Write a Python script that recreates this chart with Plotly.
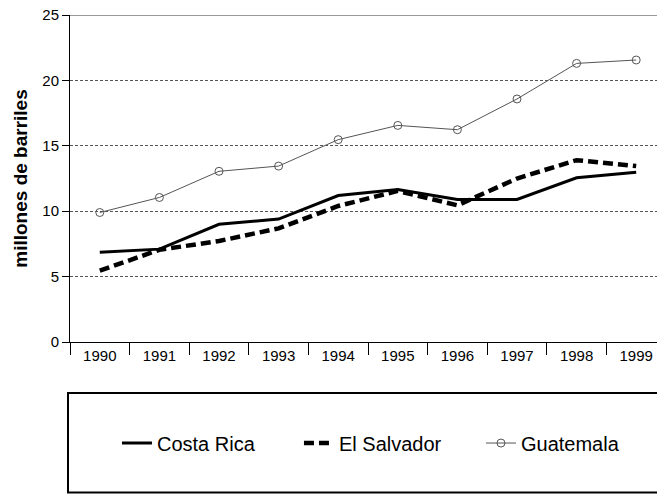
import plotly.graph_objects as go

years = ["1990", "1991", "1992", "1993", "1994", "1995", "1996", "1997", "1998", "1999"]
costa_rica = [6.86, 7.1, 9.0, 9.4, 11.2, 11.65, 10.9, 10.9, 12.55, 12.97]
el_salvador = [5.45, 7.05, 7.72, 8.69, 10.4, 11.55, 10.45, 12.5, 13.9, 13.45]
guatemala = [9.9, 11.05, 13.05, 13.45, 15.47, 16.56, 16.23, 18.58, 21.3, 21.56]

FONT = "Liberation Sans, Arial, sans-serif"

fig = go.Figure()
fig.add_trace(go.Scatter(x=years, y=costa_rica, name="Costa Rica", mode="lines",
                         line=dict(color="black", width=3)))
fig.add_trace(go.Scatter(x=years, y=el_salvador, name="El Salvador", mode="lines",
                         line=dict(color="black", width=4.5, dash="10px,5px")))
fig.add_trace(go.Scatter(x=years, y=guatemala, name="Guatemala", mode="lines+markers",
                         line=dict(color="#555555", width=1),
                         marker=dict(symbol="circle-open", size=8, color="#555555",
                                     line=dict(width=1, color="#555555"))))

fig.update_layout(
    width=657, height=495,
    margin=dict(l=70, r=0, t=15, b=153, autoexpand=False),
    paper_bgcolor="white", plot_bgcolor="white",
    font=dict(family=FONT, color="black", size=15),
    showlegend=True,
    legend=dict(orientation="h", x=0.080, y=-0.309, xanchor="left", yanchor="middle",
                font=dict(size=20, family=FONT), bgcolor="rgba(0,0,0,0)",
                borderwidth=0, itemwidth=30, entrywidth=137),
    xaxis=dict(type="category", range=[-0.5, 9.349], showgrid=False,
               showline=True, linecolor="black", linewidth=1,
               ticks="outside", tickson="boundaries", ticklen=12, tickcolor="black",
               tickfont=dict(size=15, family=FONT), automargin=False,
               ticklabeloverflow="allow"),
    yaxis=dict(range=[0, 25], dtick=5, showgrid=True, gridcolor="#555555", gridwidth=1,
               griddash="3px,2px", zeroline=False,
               showline=True, linecolor="black", linewidth=1,
               ticks="outside", ticklen=7, tickcolor="black",
               tickfont=dict(size=15, family=FONT), automargin=False,
               ticklabeloverflow="allow",
               title=dict(text="<b>millones de barriles</b>", font=dict(size=19, family=FONT),
                          standoff=9)),
    shapes=[
        dict(type="line", xref="paper", yref="y", x0=0, x1=1, y0=25, y1=25,
             line=dict(color="#999999", width=2)),
        dict(type="rect", xref="paper", yref="paper", x0=-0.0034, x1=1.02,
             y0=-0.46, y1=-0.156, line=dict(color="black", width=2)),
    ],
)

fig.write_html(
    "out.html",
    config={"displayModeBar": False},
    post_script="document.body.style.margin='0';document.body.style.overflow='hidden';",
)
